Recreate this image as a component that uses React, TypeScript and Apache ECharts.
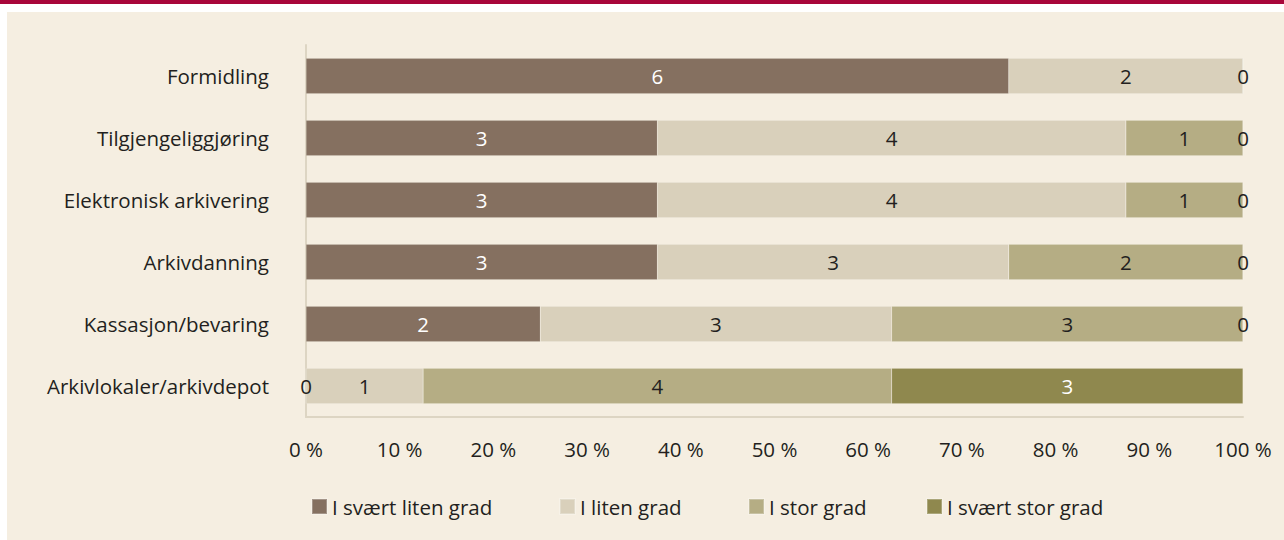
import React, { useEffect, useRef } from "react";
import * as echarts from "echarts";

const categories = [
  "Arkivlokaler/arkivdepot",
  "Kassasjon/bevaring",
  "Arkivdanning",
  "Elektronisk arkivering",
  "Tilgjengeliggjøring",
  "Formidling",
];
const seriesNames = ["I svært liten grad", "I liten grad", "I stor grad", "I svært stor grad"];
const sværtLiten = [0, 2, 3, 3, 3, 6];
const liten = [1, 3, 3, 4, 4, 2];
const stor = [4, 3, 2, 1, 1, 0];
const sværtStor = [3, 0, 0, 0, 0, 0];
const xTicks = [0, 10, 20, 30, 40, 50, 60, 70, 80, 90, 100];

const colors = ["#857060", "#d9d0bb", "#b5ad84", "#8f884e"];
const labelColors = ["#ffffff", "#231f20", "#231f20", "#ffffff"];
const legendLefts = [306, 554, 743, 921];
const FONT = "Open Sans";
const FS = 20.5;

export default function App() {
  const ref = useRef<HTMLDivElement>(null);
  useEffect(() => {
    document.body.style.margin = "0";
    const chart = echarts.init(ref.current!, null, { renderer: "svg" });
    const all = [sværtLiten, liten, stor, sværtStor];
    const totals = categories.map((_, i) => all.reduce((s, a) => s + a[i], 0));
    const series = all.map((arr, si) => ({
      name: seriesNames[si],
      type: "bar",
      stack: "total",
      barWidth: "57%",
      itemStyle: { color: colors[si], borderColor: "rgba(255,255,255,0.25)", borderWidth: 0.5 },
      label: {
        show: true,
        position: "inside",
        color: labelColors[si],
        fontFamily: FONT,
        fontSize: FS,
        formatter: (p: any) => String(arr[p.dataIndex]),
      },
      data: arr.map((v, i) => {
        const item: any = { value: (v / totals[i]) * 100 };
        if (v === 0) {
          const restAllZero = all.slice(si + 1).every((a) => a[i] === 0);
          const hasLater = si < all.length - 1;
          item.label = { color: "#231f20", show: !(hasLater && restAllZero) };
        }
        return item;
      }),
    }));
    chart.setOption({
      animation: false,
      backgroundColor: "#ffffff",
      textStyle: { fontFamily: FONT },
      graphic: [
        { type: "rect", left: 0, top: 0, shape: { width: 1284, height: 4 }, style: { fill: "#a8063a" }, z: -10 },
        { type: "rect", left: 7, top: 12, shape: { width: 1277, height: 528 }, style: { fill: "#f5eee1" }, z: -10 },
      ],
      grid: { left: 306, right: 41, top: 45, bottom: 123, containLabel: false },
      legend: seriesNames.map((n, i) => ({
        top: 491,
        left: legendLefts[i],
        itemWidth: 15,
        itemHeight: 15,
        icon: "rect",
        textStyle: { fontFamily: FONT, fontSize: FS, color: "#231f20", padding: [0, 0, 0, 0] },
        data: [n],
      })),
      xAxis: {
        type: "value",
        min: 0,
        max: 100,
        interval: 10,
        axisLine: { show: true, lineStyle: { color: "#ddd5c3", width: 2 } },
        axisTick: { show: false },
        splitLine: { show: false },
        axisLabel: {
          margin: 21,
          fontFamily: FONT,
          fontSize: FS,
          color: "#231f20",
          formatter: (v: number) => (xTicks.includes(v) ? `${v} %` : ""),
        },
      },
      yAxis: {
        type: "category",
        data: categories,
        axisLine: { show: true, lineStyle: { color: "#ddd5c3", width: 2 } },
        axisTick: { show: false },
        axisLabel: { margin: 37, fontFamily: FONT, fontSize: FS, color: "#231f20" },
      },
      series,
    });
    return () => chart.dispose();
  }, []);
  return <div ref={ref} style={{ width: 1284, height: 540 }} />;
}
